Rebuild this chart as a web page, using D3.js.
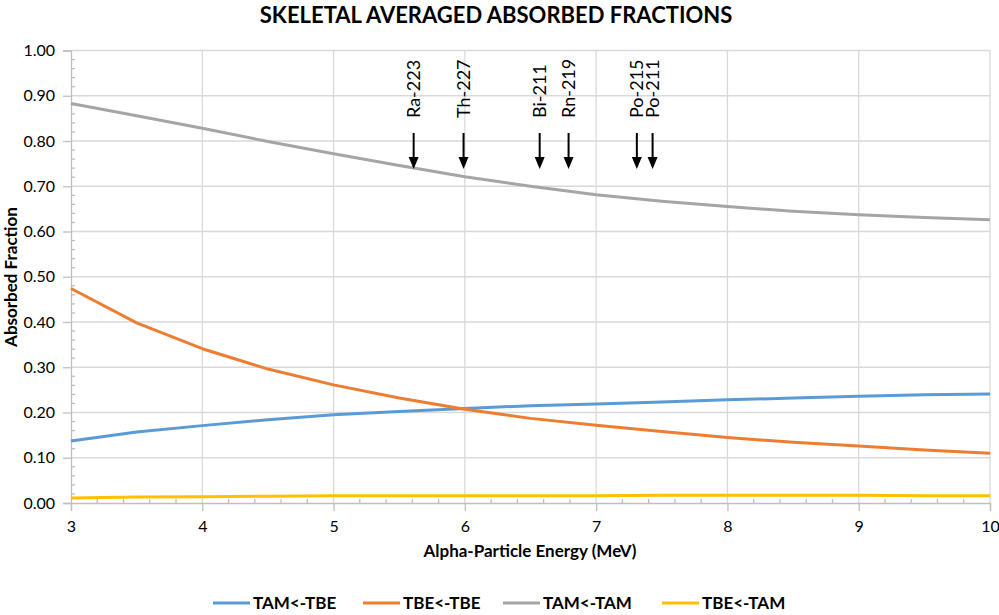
<!DOCTYPE html>
<html><head><meta charset="utf-8">
<script src="https://cdn.jsdelivr.net/npm/d3@7"></script>
<style>body{margin:0;background:#fff;} text{font-family:Lato,"Liberation Sans",sans-serif;}</style>
</head><body><svg id="c" width="999" height="615"></svg>
<script>
const energies = [3,3.5,4,4.5,5,5.5,6,6.5,7,7.5,8,8.5,9,9.5,10];
const tamTbe = [0.137,0.157,0.171,0.184,0.195,0.202,0.209,0.215,0.219,0.223,0.228,0.232,0.236,0.239,0.241];
const tbeTbe = [0.474,0.398,0.341,0.296,0.261,0.232,0.207,0.187,0.172,0.158,0.145,0.134,0.126,0.117,0.110];
const tamTam = [0.883,0.856,0.828,0.799,0.772,0.746,0.721,0.700,0.681,0.667,0.655,0.645,0.637,0.631,0.626];
const tbeTam = [0.011,0.013,0.014,0.015,0.016,0.016,0.016,0.016,0.016,0.017,0.017,0.017,0.017,0.016,0.016];
const seriesNames = ["TAM<-TBE","TBE<-TBE","TAM<-TAM","TBE<-TAM"];
const seriesColors = ["#5b9bd5","#ed7d31","#a5a5a5","#ffc000"];
const nuclides = ["Ra-223","Th-227","Bi-211","Rn-219","Po-215","Po-211"];
const nuclideEnergy = [5.61,5.99,6.57,6.79,7.31,7.43];
const xTicks = [3,4,5,6,7,8,9,10];
const yTicks = [0,0.1,0.2,0.3,0.4,0.5,0.6,0.7,0.8,0.9,1.0];

const svg = d3.select("#c");
const x = d3.scaleLinear().domain([3,10]).range([71,990]);
const y = d3.scaleLinear().domain([0,1]).range([503,50.5]);
const allSeries = [tamTbe,tbeTbe,tamTam,tbeTam];

// gridlines
svg.append("g").selectAll("line").data(yTicks.slice(1)).join("line")
  .attr("x1",x(3)).attr("x2",x(10)).attr("y1",d=>y(d)).attr("y2",d=>y(d))
  .attr("stroke","#d9d9d9").attr("stroke-width",1.3);
svg.append("g").selectAll("line").data(xTicks.slice(1)).join("line")
  .attr("x1",d=>x(d)).attr("x2",d=>x(d)).attr("y1",y(0)).attr("y2",y(1))
  .attr("stroke","#d9d9d9").attr("stroke-width",1.3);

// axes
const yAxis = d3.axisLeft(y).tickValues(yTicks).tickFormat(d3.format(".2f")).tickSize(8).tickPadding(8);
const gy = svg.append("g").attr("transform",`translate(${x(3)},0)`).call(yAxis);
const xAxis = d3.axisBottom(x).tickValues(xTicks).tickFormat(d3.format("d")).tickSize(8).tickPadding(10);
const gx = svg.append("g").attr("transform",`translate(0,${y(0)})`).call(xAxis);
[gx,gy].forEach(g=>{
  g.select(".domain").attr("stroke","#bfbfbf").attr("stroke-width",1.3);
  g.selectAll(".tick line").attr("stroke","#bfbfbf").attr("stroke-width",1.3);
  g.selectAll(".tick text").attr("fill","#000").style("font-size","16px").style("font-family","Lato");
});
// minor ticks (inside)
const yMinor = d3.range(0,1.0001,0.02).filter(v=>Math.abs(v*10-Math.round(v*10))>1e-6);
svg.append("g").selectAll("line").data(yMinor).join("line")
  .attr("x1",x(3)).attr("x2",x(3)+4).attr("y1",d=>y(d)).attr("y2",d=>y(d))
  .attr("stroke","#bfbfbf").attr("stroke-width",1.3);
const xMinor = d3.range(3,10.0001,0.2).filter(v=>Math.abs(v-Math.round(v))>1e-6);
svg.append("g").selectAll("line").data(xMinor).join("line")
  .attr("x1",d=>x(d)).attr("x2",d=>x(d)).attr("y1",y(0)).attr("y2",y(0)-4)
  .attr("stroke","#bfbfbf").attr("stroke-width",1.3);

// lines
const line = d3.line().x((d,i)=>x(energies[i])).y(d=>y(d));
svg.append("g").selectAll("path").data(allSeries).join("path")
  .attr("d",line).attr("fill","none")
  .attr("stroke",(d,i)=>seriesColors[i]).attr("stroke-width",3).attr("stroke-linejoin","round");

// arrows
const ag = svg.append("g");
nuclides.forEach((n,i)=>{
  const cx = x(nuclideEnergy[i]);
  ag.append("line").attr("x1",cx).attr("x2",cx).attr("y1",133).attr("y2",159)
    .attr("stroke","#000").attr("stroke-width",2);
  ag.append("path").attr("d",`M${cx-5},157 L${cx+5},157 L${cx},169 Z`).attr("fill","#000");
  ag.append("text").attr("transform",`translate(${cx+6},118) rotate(-90)`)
    .attr("text-anchor","start").style("font-size","18px").text(n);
});

// title
svg.append("text").attr("x",496).attr("y",23).attr("text-anchor","middle")
  .style("font-size","22px").style("font-weight","bold").text("SKELETAL AVERAGED ABSORBED FRACTIONS");
svg.append("text").attr("x",530).attr("y",557).attr("text-anchor","middle")
  .style("font-size","17px").style("font-weight","bold").text("Alpha-Particle Energy (MeV)");
svg.append("text").attr("transform","translate(17,277) rotate(-90)").attr("text-anchor","middle")
  .style("font-size","17px").style("font-weight","bold").text("Absorbed Fraction");

// legend
const legX = [213,363,503,662];
const lg = svg.append("g");
seriesNames.forEach((s,i)=>{
  lg.append("line").attr("x1",legX[i]).attr("x2",legX[i]+37).attr("y1",603).attr("y2",603)
    .attr("stroke",seriesColors[i]).attr("stroke-width",3);
  lg.append("text").attr("x",legX[i]+40).attr("y",609).style("font-size","17px")
    .style("font-weight","bold").text(s);
});
</script></body></html>
